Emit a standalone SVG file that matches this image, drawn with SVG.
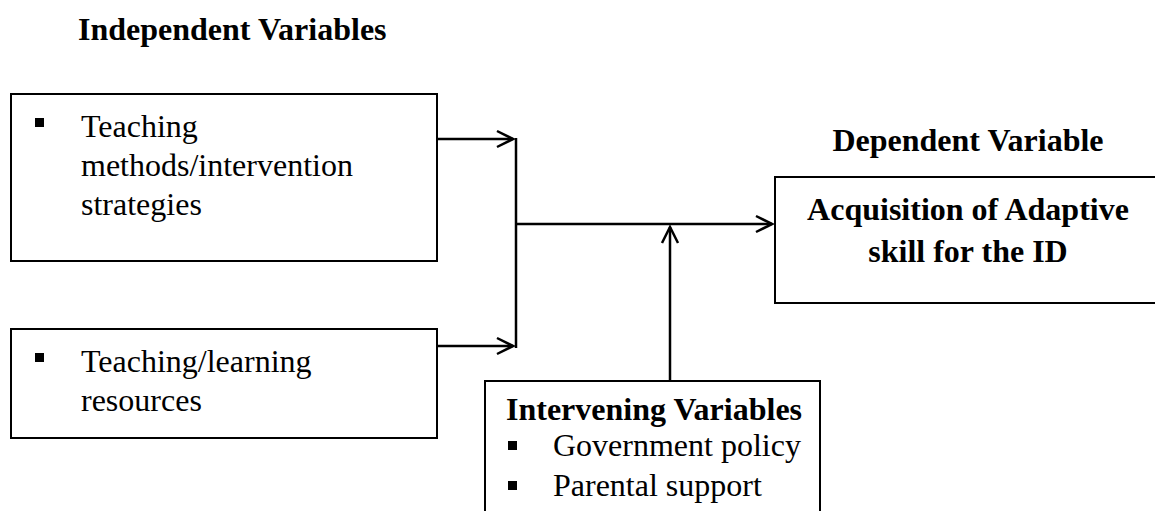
<svg xmlns="http://www.w3.org/2000/svg" width="1155" height="511" viewBox="0 0 1155 511">
<style>
.box{fill:#fff;stroke:#000;stroke-width:2}
.t{font-family:"Liberation Serif","Times New Roman",serif;font-size:32px;fill:#000}
.b{font-weight:bold}
.ln{stroke:#000;stroke-width:2.5;fill:none}
.bul{fill:#000}
</style>
<defs>
<marker id="ah" viewBox="0 0 20 20" refX="18" refY="10" markerWidth="20" markerHeight="20" markerUnits="userSpaceOnUse" orient="auto">
<path d="M2,2 L18,10 L2,18" fill="none" stroke="#000" stroke-width="2.5"/>
</marker>
</defs>
<rect width="1155" height="511" fill="#fff"/>
<text class="t b" x="78" y="40">Independent Variables</text>
<g id="iv1">
<rect class="box" x="11" y="94" width="426" height="167"/>
<rect class="bul" x="35" y="118" width="9" height="9"/>
<text class="t" x="81" y="137">Teaching</text>
<text class="t" x="81" y="176">methods/intervention</text>
<text class="t" x="81" y="215">strategies</text>
</g>
<g id="iv2">
<rect class="box" x="11" y="329" width="426" height="109"/>
<rect class="bul" x="35" y="353" width="9" height="9"/>
<text class="t" x="81" y="372">Teaching/learning</text>
<text class="t" x="81" y="411">resources</text>
</g>
<g id="dv">
<text class="t b" x="968" y="151" text-anchor="middle">Dependent Variable</text>
<rect class="box" x="775" y="177" width="390" height="126"/>
<text class="t b" x="968" y="220" text-anchor="middle">Acquisition of Adaptive</text>
<text class="t b" x="968" y="262" text-anchor="middle">skill for the ID</text>
</g>
<g id="intervening">
<rect class="box" x="485" y="381" width="335" height="140"/>
<text class="t b" x="506" y="420">Intervening Variables</text>
<rect class="bul" x="508" y="441" width="9" height="9"/>
<text class="t" x="553" y="456">Government policy</text>
<rect class="bul" x="508" y="481" width="9" height="9"/>
<text class="t" x="553" y="496">Parental support</text>
</g>
<g id="connectors">
<line class="ln" x1="437" y1="139" x2="513" y2="139" marker-end="url(#ah)"/>
<line class="ln" x1="437" y1="346" x2="513" y2="346" marker-end="url(#ah)"/>
<line class="ln" x1="516" y1="138" x2="516" y2="348"/>
<line class="ln" x1="516" y1="224" x2="772" y2="224" marker-end="url(#ah)"/>
<line class="ln" x1="670" y1="381" x2="670" y2="227" marker-end="url(#ah)"/>
</g>
</svg>
